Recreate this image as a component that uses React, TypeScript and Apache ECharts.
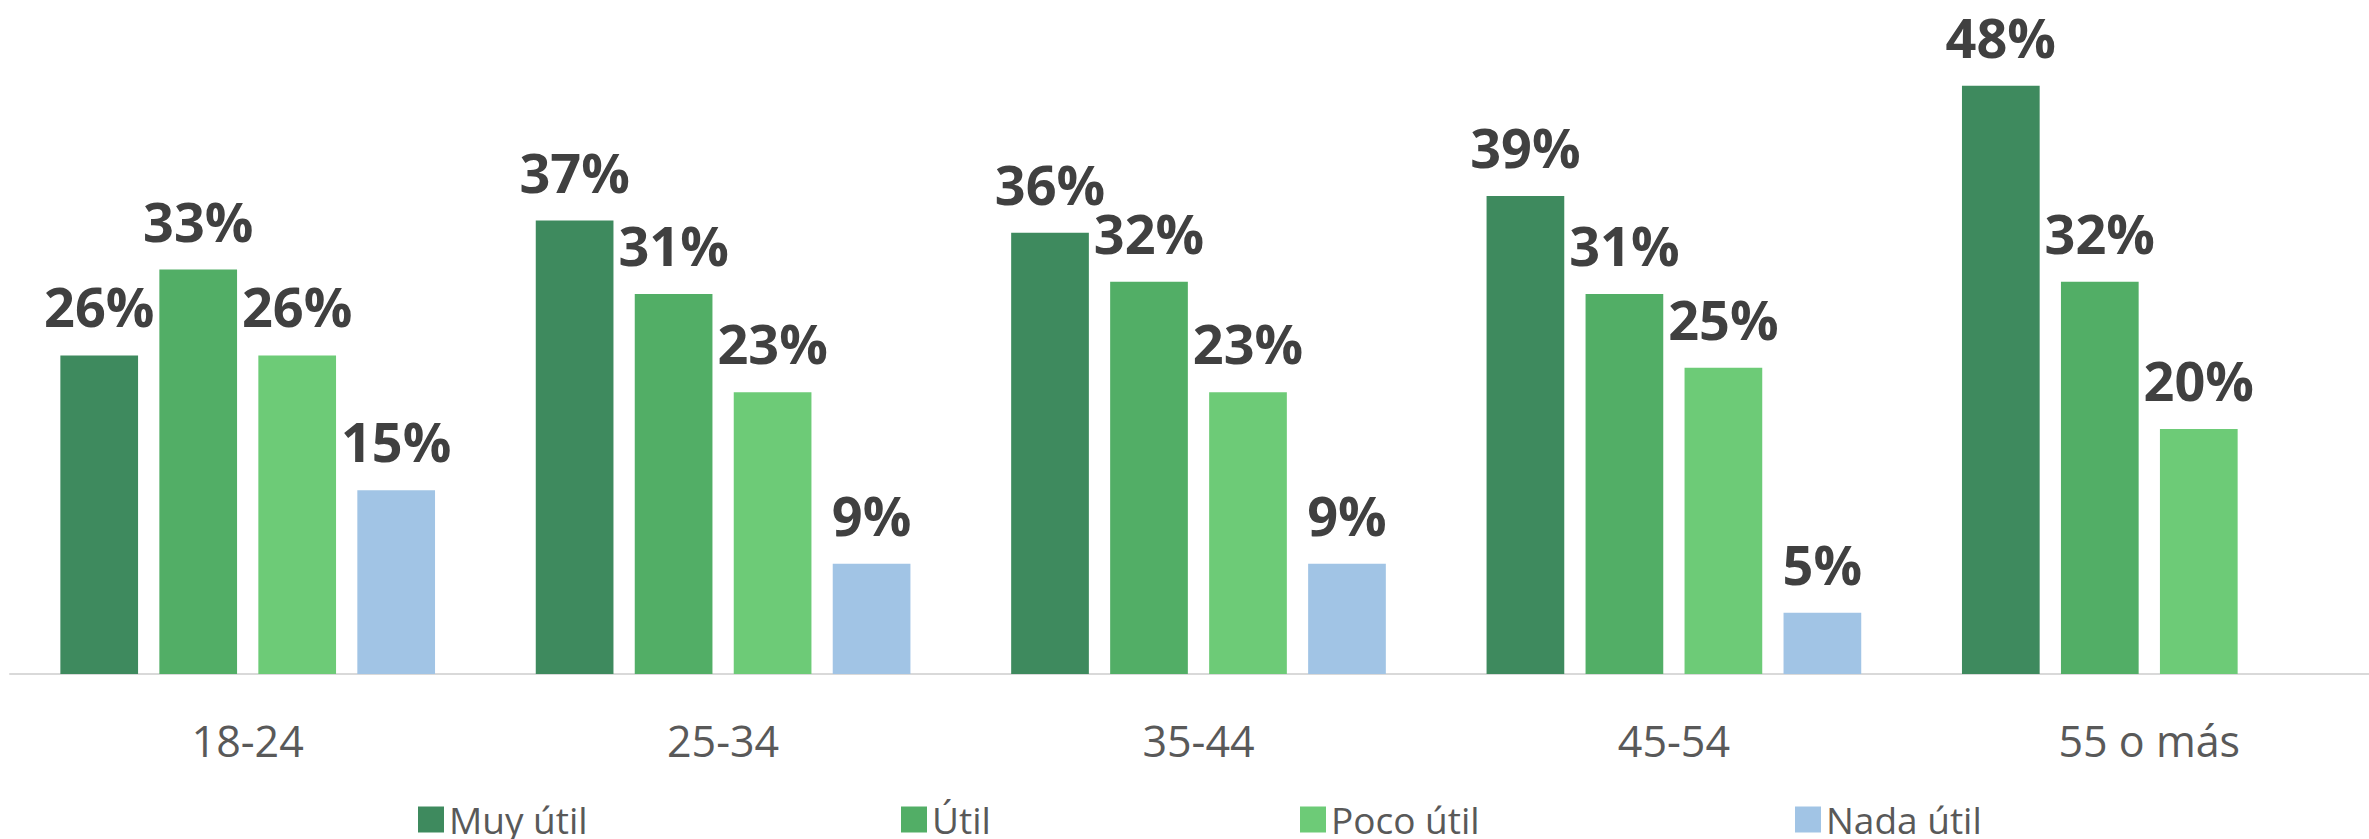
import React, { useEffect, useRef } from "react";
import * as echarts from "echarts";

const categories = ["18-24", "25-34", "35-44", "45-54", "55 o más"];
const seriesNames = ["Muy útil", "Útil", "Poco útil", "Nada útil"];
const muyUtil = [26, 37, 36, 39, 48];
const util = [33, 31, 32, 31, 32];
const pocoUtil = [26, 23, 23, 25, 20];
const nadaUtil: (number | null)[] = [15, 9, 9, 5, null];

const seriesValues = [muyUtil, util, pocoUtil, nadaUtil];
const colors = ["#3E8A5E", "#52AE66", "#6DCB77", "#A1C4E5"];
const legendLefts = [413, 896, 1295, 1790];

export default function App() {
  const ref = useRef<HTMLDivElement>(null);
  useEffect(() => {
    if (!ref.current) return;
    const chart = echarts.init(ref.current, undefined, { renderer: "svg" });
    chart.setOption({
      animation: false,
      backgroundColor: "#ffffff",
      textStyle: { fontFamily: "'Open Sans', sans-serif" },
      grid: {
        left: 10,
        width: 2377,
        top: 0,
        bottom: 165,
        containLabel: false,
        outerBoundsMode: "none",
      },
      xAxis: {
        type: "category",
        data: categories,
        axisLine: { show: true, lineStyle: { color: "#D9D9D9", width: 2 } },
        axisTick: { show: false },
        axisLabel: {
          color: "#595959",
          fontSize: 43,
          margin: 45,
          fontFamily: "'Open Sans', sans-serif",
        },
      },
      yAxis: {
        type: "value",
        min: 0,
        max: 55,
        show: false,
        splitLine: { show: false },
      },
      legend: seriesNames.map((name, i) => ({
        data: [name],
        left: legendLefts[i],
        top: 796,
        itemWidth: 26,
        itemHeight: 26,
        itemGap: 12,
        icon: "rect",
        textStyle: {
          color: "#595959",
          fontSize: 37,
          lineHeight: 26,
          fontFamily: "'Open Sans', sans-serif",
          padding: [0, 0, 0, 0],
        },
      })),
      series: seriesNames.map((name, i) => ({
        name,
        type: "bar",
        data: seriesValues[i],
        barWidth: 77.7,
        barGap: "27.4%",
        itemStyle: { color: colors[i] },
        label: {
          show: true,
          position: "top",
          distance: 22,
          formatter: "{c}%",
          color: "#404040",
          fontSize: 54,
          fontWeight: "bold",
          fontFamily: "'Open Sans', sans-serif",
        },
      })),
    });
    return () => chart.dispose();
  }, []);
  return (
    <div
      ref={ref}
      style={{ position: "fixed", left: 0, top: 0, width: 2369, height: 839 }}
    />
  );
}
